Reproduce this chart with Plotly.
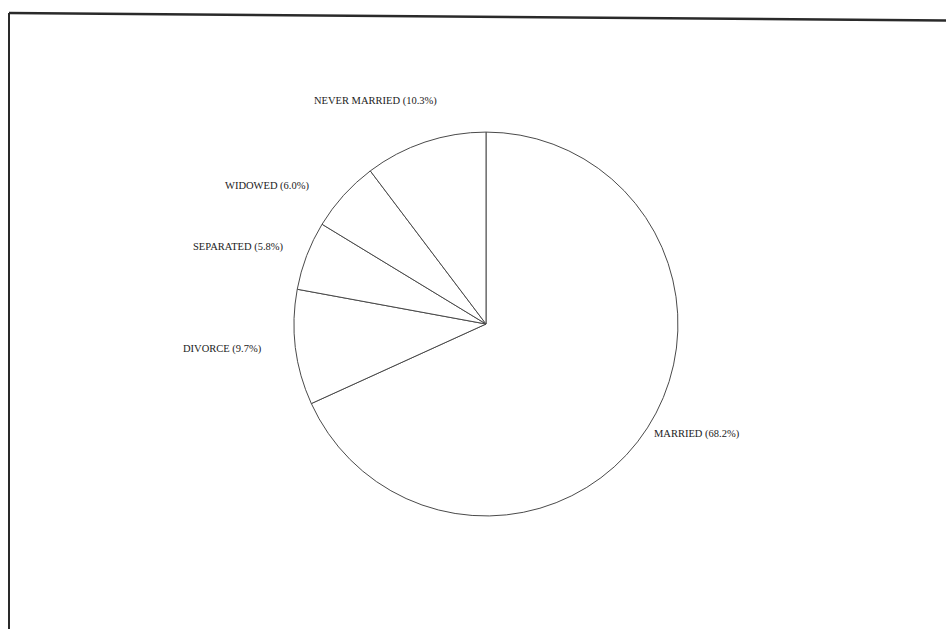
import plotly.graph_objects as go

# Marital status distribution (clockwise from 12 o'clock)
categories = ["MARRIED", "DIVORCE", "SEPARATED", "WIDOWED", "NEVER MARRIED"]
shares = [68.2, 9.7, 5.8, 6.0, 10.3]

# label anchor points (paper coordinates), one per category
label_x = [697 / 946, 222 / 946, 238 / 946, 267 / 946, 375 / 946]
label_y = [1 - 434 / 629, 1 - 349 / 629, 1 - 247 / 629, 1 - 186 / 629, 1 - 101 / 629]

fig = go.Figure(
    go.Pie(
        labels=categories,
        values=shares,
        sort=False,
        direction="clockwise",
        rotation=0,
        marker=dict(colors=["white"] * len(categories),
                    line=dict(color="#4a4a4a", width=1)),
        textinfo="none",
        showlegend=False,
        hoverinfo="label+percent",
        domain=dict(x=[0.3108, 0.7167], y=[0.1797, 0.790]),
    )
)

total = sum(shares)
for name, val, x, y in zip(categories, shares, label_x, label_y):
    fig.add_annotation(
        x=x, y=y, xref="paper", yref="paper",
        text=f"{name} ({val / total * 100:.1f}%)",
        showarrow=False, xanchor="center", yanchor="middle",
        font=dict(family="Liberation Serif", size=10.5, color="#222222"),
    )

# frame lines around the chart area
fig.add_shape(type="line", xref="paper", yref="paper",
              x0=9 / 946, y0=1 - 13 / 629, x1=1.0, y1=1 - 20.5 / 629,
              line=dict(color="#2a2a2a", width=2.5))
fig.add_shape(type="line", xref="paper", yref="paper",
              x0=9 / 946, y0=1 - 13 / 629, x1=9 / 946, y1=0.0,
              line=dict(color="#2a2a2a", width=2))

fig.update_layout(
    width=946, height=629,
    margin=dict(l=0, r=0, t=0, b=0),
    paper_bgcolor="white",
    plot_bgcolor="white",
)

fig.write_html("out.html")
